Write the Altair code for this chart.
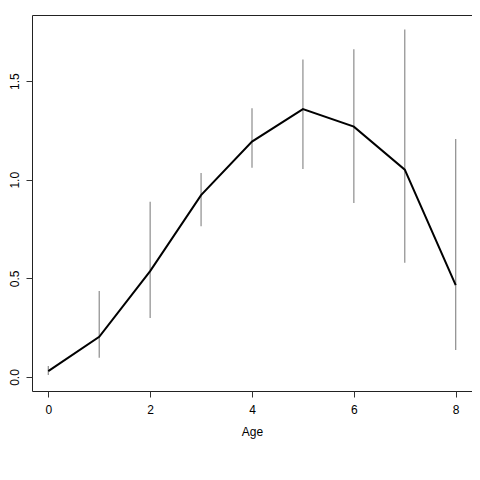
import altair as alt
import pandas as pd

ages = [0, 1, 2, 3, 4, 5, 6, 7, 8]
means = [0.030, 0.204, 0.537, 0.922, 1.193, 1.358, 1.269, 1.051, 0.466]
lowers = [0.010, 0.098, 0.299, 0.764, 1.061, 1.054, 0.882, 0.579, 0.137]
uppers = [0.056, 0.436, 0.888, 1.034, 1.362, 1.610, 1.662, 1.762, 1.206]

df = pd.DataFrame({"Age": ages, "mean": means, "lo": lowers, "hi": uppers})

FONT = "Liberation Sans"

xscale = alt.Scale(domain=[-0.32, 8.32], nice=False, zero=False)
yscale = alt.Scale(domain=[-0.071, 1.835], nice=False, zero=False)

base = alt.Chart(df)

bars = base.mark_rule(color="#8c8c8c", strokeWidth=1.2).encode(
    x=alt.X("Age:Q", scale=xscale,
            axis=alt.Axis(values=[0, 2, 4, 6, 8], title="Age", grid=False,
                          domain=False, tickSize=6, tickColor="#333333",
                          labelPadding=7, labelFont=FONT, labelFontSize=12,
                          labelColor="black", titleFont=FONT, titleFontSize=12,
                          titleFontWeight="normal", titleColor="black",
                          titlePadding=11, format="d")),
    y=alt.Y("lo:Q", scale=yscale,
            axis=alt.Axis(values=[0, 0.5, 1.0, 1.5], title=None, grid=False,
                          domain=False, tickSize=6, tickColor="#333333",
                          labelAngle=270, labelAlign="center",
                          labelBaseline="alphabetic", labelPadding=8,
                          labelFont=FONT, labelFontSize=12, labelColor="black",
                          format=".1f")),
    y2="hi:Q",
)

line = base.mark_line(color="black", strokeWidth=2).encode(
    x=alt.X("Age:Q", scale=xscale),
    y=alt.Y("mean:Q", scale=yscale),
)

chart = alt.layer(bars, line).properties(
    width=440, height=376,
    padding={"left": 24, "top": 7, "right": 0, "bottom": 80},
    autosize=alt.AutoSizeParams(type="none"),
    background="white",
).configure_view(stroke="#222222", strokeWidth=1)

chart.save("out.html", embed_options={"renderer": "svg", "actions": False})
